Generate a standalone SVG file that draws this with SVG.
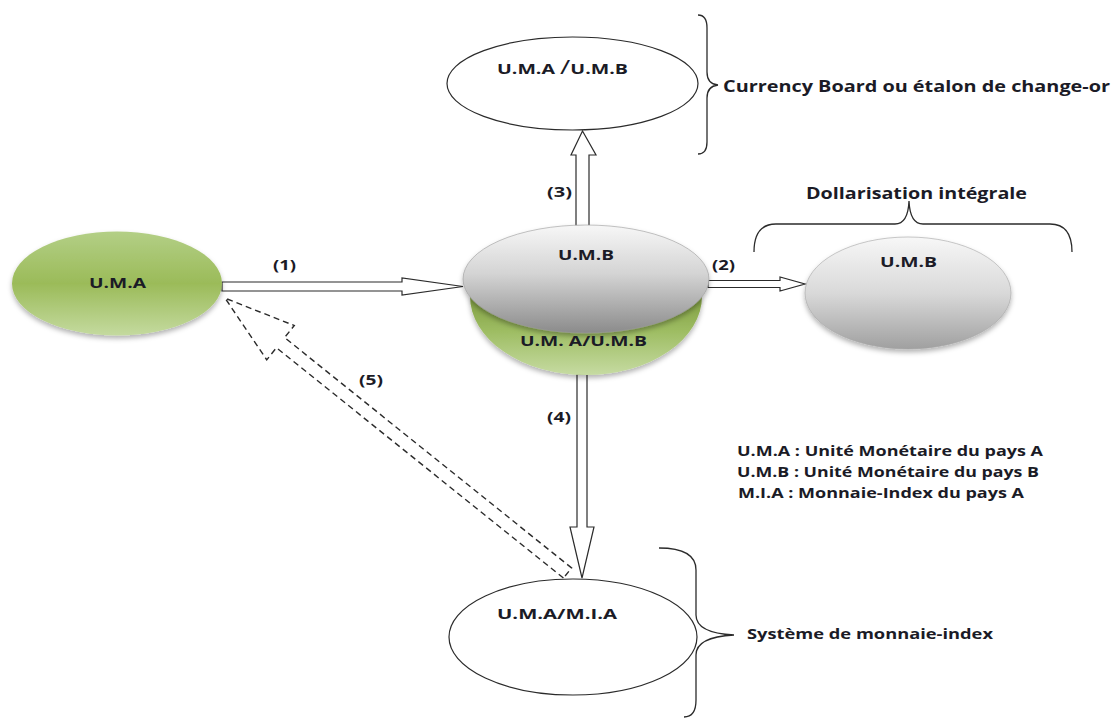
<svg xmlns="http://www.w3.org/2000/svg" width="1114" height="719" viewBox="0 0 1114 719">
<style>
  text { font-family: "Open Sans", "Liberation Sans", Arial, sans-serif; font-weight: bold; fill: #1b1b26; font-size: 14px; }
  .big { font-size: 15.5px; }
  .leg { font-size: 14.5px; }
  .plain { fill: #ffffff; stroke: #2b2b2b; stroke-width: 1.2; }
  .arrow { fill: #ffffff; stroke: #2b2b2b; stroke-width: 1.2; stroke-linejoin: miter; }
  .dash { fill: none; stroke: #2b2b2b; stroke-width: 1.4; stroke-dasharray: 6 4; }
  .brace { fill: none; stroke: #2b2b2b; stroke-width: 1.3; }
</style>
<defs>
  <linearGradient id="gGreen" x1="0" y1="0" x2="0" y2="1">
    <stop offset="0" stop-color="#b3cf86"/>
    <stop offset="0.5" stop-color="#9bbb59"/>
    <stop offset="1" stop-color="#c4da9f"/>
  </linearGradient>
  <linearGradient id="gGreen2" x1="0" y1="0" x2="0" y2="1">
    <stop offset="0" stop-color="#7f9d40"/>
    <stop offset="0.45" stop-color="#9ebd63"/>
    <stop offset="1" stop-color="#c6dba2"/>
  </linearGradient>
  <linearGradient id="gGray" x1="0" y1="0" x2="0" y2="1">
    <stop offset="0" stop-color="#f7f7f7"/>
    <stop offset="0.45" stop-color="#d4d4d4"/>
    <stop offset="1" stop-color="#8b8b8b"/>
  </linearGradient>
  <linearGradient id="gGray2" x1="0" y1="0" x2="0" y2="1">
    <stop offset="0" stop-color="#f7f7f7"/>
    <stop offset="0.5" stop-color="#d9d9d9"/>
    <stop offset="1" stop-color="#a0a0a0"/>
  </linearGradient>
  <filter id="shadow" x="-20%" y="-20%" width="140%" height="150%">
    <feDropShadow dx="0" dy="3" stdDeviation="2.5" flood-color="#000" flood-opacity="0.3"/>
  </filter>
</defs>

<g id="connectors">
  <!-- (1) U.M.A -> U.M.B -->
  <polygon class="arrow" points="222,282 402,282 402,278 463,286.5 402,295 402,291 222,291"/>
  <!-- (2) -> U.M.B dollarisation -->
  <polygon class="arrow" points="708,280.5 780,280.5 780,277 805,284 780,291 780,287.5 708,287.5"/>
  <!-- (3) up -->
  <polygon class="arrow" points="576,226 576,155 571,155 582.5,131 596,155 589,155 589,226"/>
  <!-- (4) down -->
  <polygon class="arrow" points="577,374 577,527 570,527 582,578 594,527 587,527 587,374"/>
  <!-- (5) dashed back arrow -->
  <g transform="translate(567.5,573) rotate(218.75)">
    <polygon class="dash" points="0,-6.5 368,-6.5 368,-22 439,0 368,22 368,6.5 0,6.5"/>
  </g>
  <text x="273" y="270" textLength="23" lengthAdjust="spacingAndGlyphs">(1)</text>
  <text x="712" y="270" textLength="23" lengthAdjust="spacingAndGlyphs">(2)</text>
  <text x="547" y="197" textLength="25" lengthAdjust="spacingAndGlyphs">(3)</text>
  <text x="547" y="422" textLength="24" lengthAdjust="spacingAndGlyphs">(4)</text>
  <text x="359" y="385" textLength="24" lengthAdjust="spacingAndGlyphs">(5)</text>
</g>

<g id="node-uma">
  <ellipse cx="117" cy="283.5" rx="105" ry="52" fill="url(#gGreen)" filter="url(#shadow)"/>
  <text x="89" y="288" textLength="57" lengthAdjust="spacingAndGlyphs">U.M.A</text>
</g>

<g id="node-umb-center">
  <path d="M470,296 A116,79 0 0 0 702,296 Z" fill="url(#gGreen2)" filter="url(#shadow)"/>
  <ellipse cx="586" cy="279" rx="123" ry="54" fill="url(#gGray)" stroke="#9a9a9a" stroke-width="0.6" filter="url(#shadow)"/>
  <text x="558" y="260" textLength="56" lengthAdjust="spacingAndGlyphs">U.M.B</text>
  <text x="520" y="346" textLength="127" lengthAdjust="spacingAndGlyphs">U.M. A/U.M.B</text>
</g>

<g id="node-currency-board">
  <ellipse class="plain" cx="572.5" cy="83.5" rx="125.5" ry="46.5"/>
  <text x="497" y="74" textLength="131" lengthAdjust="spacingAndGlyphs">U.M.A <tspan font-size="20" font-weight="normal">/</tspan>U.M.B</text>
  <path class="brace" d="M698,15 Q707,15 707,28 L707,72 Q707,84 718,85 Q707,86 707,98 L707,142 Q707,154 698,154"/>
  <text class="big" x="723" y="92" textLength="387" lengthAdjust="spacingAndGlyphs">Currency Board ou étalon de change-or</text>
</g>

<g id="node-dollarisation">
  <ellipse cx="908" cy="293" rx="103" ry="56" fill="url(#gGray2)" stroke="#a5a5a5" stroke-width="0.6" filter="url(#shadow)"/>
  <text x="880" y="267" textLength="57" lengthAdjust="spacingAndGlyphs">U.M.B</text>
  <path class="brace" d="M754,252 Q754,224 776,224 L895,224 Q908,224 909,201 Q910,224 923,224 L1050,224 Q1072,224 1072,252"/>
  <text class="big" x="806" y="199" textLength="221" lengthAdjust="spacingAndGlyphs">Dollarisation intégrale</text>
</g>

<g id="node-monnaie-index">
  <ellipse class="plain" cx="573" cy="637" rx="124" ry="58"/>
  <text x="497" y="619" textLength="120" lengthAdjust="spacingAndGlyphs">U.M.A/M.I.A</text>
  <path class="brace" d="M659,548 Q696,548 696,570 L696,615 Q696,633 734,635 Q696,637 696,655 L696,700 Q696,717 684,717"/>
  <text x="747" y="639" textLength="246" lengthAdjust="spacingAndGlyphs">Système de monnaie-index</text>
</g>

<g id="legend">
  <text class="leg" x="737" y="456" textLength="306" lengthAdjust="spacingAndGlyphs">U.M.A : Unité Monétaire du pays A</text>
  <text class="leg" x="737" y="477" textLength="302" lengthAdjust="spacingAndGlyphs">U.M.B : Unité Monétaire du pays B</text>
  <text class="leg" x="738" y="498" textLength="286" lengthAdjust="spacingAndGlyphs">M.I.A : Monnaie-Index du pays A</text>
</g>
</svg>
